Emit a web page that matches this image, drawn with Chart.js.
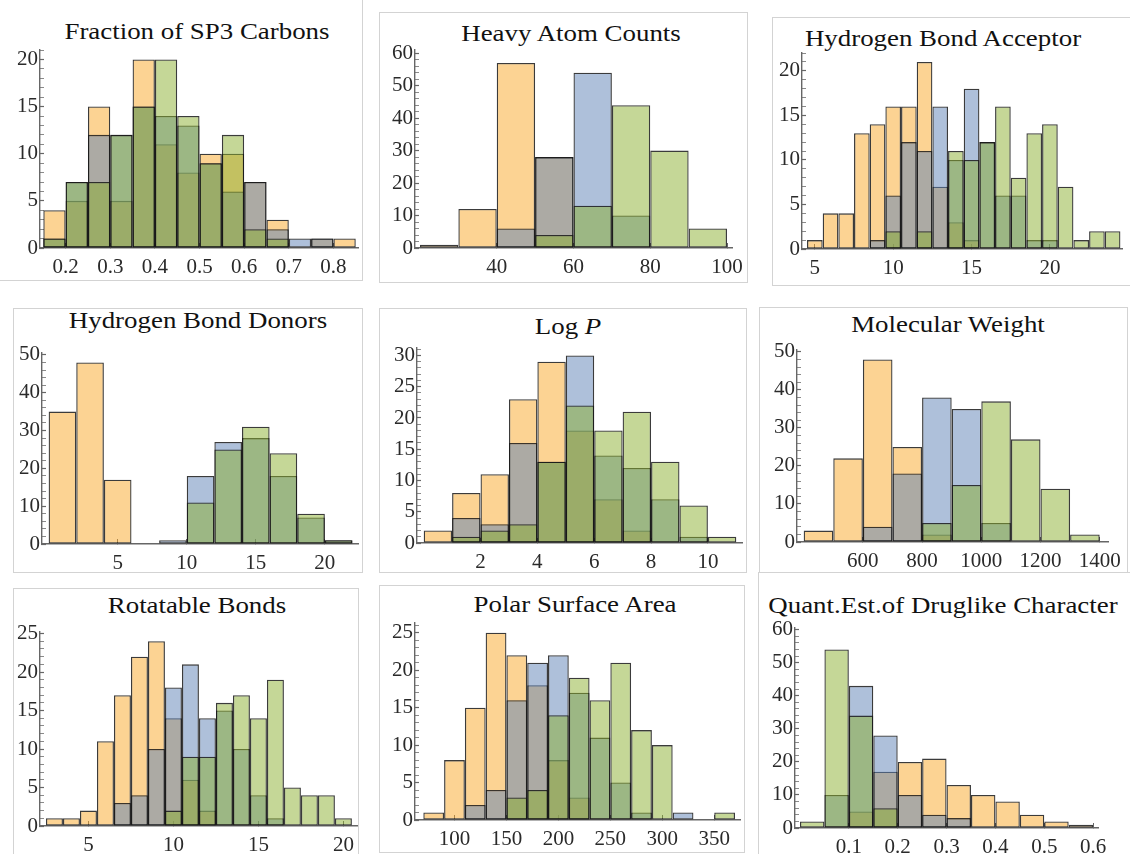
<!DOCTYPE html>
<html>
<head>
<meta charset="utf-8">
<title>Property histograms</title>
<script src="https://cdn.jsdelivr.net/npm/chart.js@4.4.1/dist/chart.umd.min.js"></script>
<style>
    body { margin: 0; width: 1130px; height: 854px; position: relative; overflow: hidden; background: #fff; font-family: 'Liberation Serif', 'Times New Roman', serif; }
    .frame { position: absolute; border: 1px solid #d3d3d3; box-sizing: border-box; }
    .title { position: absolute; font-size: 24px; line-height: 24px; color: #111; white-space: nowrap; transform: translateX(-50%) scaleX(1.12); }
    canvas { position: absolute; }
</style>
</head>
<body>
<div class="frame" style="left:-1px;top:-1px;width:364px;height:282px"></div>
<div class="frame" style="left:379px;top:12px;width:369px;height:271px"></div>
<div class="frame" style="left:772px;top:17px;width:370px;height:269px"></div>
<div class="frame" style="left:13px;top:308px;width:350px;height:265px"></div>
<div class="frame" style="left:379px;top:308px;width:368px;height:265px"></div>
<div class="frame" style="left:759px;top:307px;width:369px;height:266px"></div>
<div class="frame" style="left:13px;top:588px;width:346px;height:280px"></div>
<div class="frame" style="left:379px;top:585px;width:366px;height:268px"></div>
<div class="frame" style="left:758px;top:572px;width:380px;height:290px"></div>

<div class="title" style="left:197px;top:19px">Fraction of SP3 Carbons</div>
<div class="title" style="left:571px;top:21px">Heavy Atom Counts</div>
<div class="title" style="left:943px;top:26px">Hydrogen Bond Acceptor</div>
<div class="title" style="left:198px;top:308px">Hydrogen Bond Donors</div>
<div class="title" style="left:568px;top:314px">Log <i>P</i></div>
<div class="title" style="left:948px;top:312px">Molecular Weight</div>
<div class="title" style="left:197px;top:593px">Rotatable Bonds</div>
<div class="title" style="left:575px;top:592px">Polar Surface Area</div>
<div class="title" style="left:943px;top:593px">Quant.Est.of Druglike Character</div>

<script>
// bins = left edge of each bin; counts per bin for the three sets (orange, blue, green)

// Fraction of SP3 Carbons
const sp3Bins = [0.15, 0.2, 0.25, 0.3, 0.35, 0.4, 0.45, 0.5, 0.55, 0.6, 0.65, 0.7, 0.75, 0.8];
const sp3Orange = [4, 5, 15, 5, 20, 11, 8, 10, 10, 7, 3, 0, 1, 1];
const sp3Blue = [1, 7, 12, 12, 15, 14, 13, 9, 6, 7, 2, 1, 1, 0];
const sp3Green = [1, 7, 7, 12, 15, 20, 14, 9, 12, 2, 1, 0, 0, 0];
const sp3XTicks = [0.2, 0.3, 0.4, 0.5, 0.6, 0.7, 0.8];
const sp3YTicks = [0, 5, 10, 15, 20];

// Heavy Atom Counts
const heavyBins = [20, 30, 40, 50, 60, 70, 80, 90];
const heavyOrange = [1, 12, 57, 28, 0, 0, 0, 0];
const heavyBlue = [0, 0, 6, 28, 54, 10, 0, 0];
const heavyGreen = [0, 0, 0, 4, 13, 44, 30, 6];
const heavyXTicks = [40, 60, 80, 100];
const heavyYTicks = [0, 10, 20, 30, 40, 50, 60];

// Hydrogen Bond Acceptor
const hbaBins = [4.5, 5.5, 6.5, 7.5, 8.5, 9.5, 10.5, 11.5, 12.5, 13.5, 14.5, 15.5, 16.5, 17.5, 18.5, 19.5, 20.5, 21.5, 22.5, 23.5];
const hbaOrange = [1, 4, 4, 13, 14, 16, 16, 21, 7, 3, 1, 0, 0, 0, 0, 0, 0, 0, 0, 0];
const hbaBlue = [0, 0, 0, 0, 1, 6, 12, 11, 16, 10, 18, 12, 6, 6, 1, 1, 0, 0, 0, 0];
const hbaGreen = [0, 0, 0, 0, 0, 2, 0, 2, 0, 11, 10, 12, 16, 8, 13, 14, 7, 1, 2, 2];
const hbaXTicks = [5, 10, 15, 20];
const hbaYTicks = [0, 5, 10, 15, 20];

// Hydrogen Bond Donors
const hbdBins = [0, 2, 4, 6, 8, 10, 12, 14, 16, 18, 20];
const hbdOrange = [35, 48, 17, 0, 0, 0, 0, 0, 0, 0, 0];
const hbdBlue = [0, 0, 0, 0, 1, 18, 27, 28, 18, 7, 1];
const hbdGreen = [0, 0, 0, 0, 0, 11, 25, 31, 24, 8, 1];
const hbdXTicks = [5, 10, 15, 20];
const hbdYTicks = [0, 10, 20, 30, 40, 50];

// Log P
const logpBins = [0, 1, 2, 3, 4, 5, 6, 7, 8, 9, 10];
const logpOrange = [2, 8, 11, 23, 29, 18, 7, 2, 0, 0, 0];
const logpBlue = [0, 4, 3, 16, 13, 30, 14, 12, 7, 1, 0];
const logpGreen = [0, 1, 2, 3, 13, 22, 18, 21, 13, 6, 1];
const logpXTicks = [2, 4, 6, 8, 10];
const logpYTicks = [0, 5, 10, 15, 20, 25, 30];

// Molecular Weight
const mwBins = [400, 500, 600, 700, 800, 900, 1000, 1100, 1200, 1300];
const mwOrange = [3, 22, 48, 25, 2, 0, 0, 0, 0, 0];
const mwBlue = [0, 0, 4, 18, 38, 35, 5, 0, 0, 0];
const mwGreen = [0, 0, 0, 0, 5, 15, 37, 27, 14, 2];
const mwXTicks = [600, 800, 1000, 1200, 1400];
const mwYTicks = [0, 10, 20, 30, 40, 50];

// Rotatable Bonds
const rotBins = [2.5, 3.5, 4.5, 5.5, 6.5, 7.5, 8.5, 9.5, 10.5, 11.5, 12.5, 13.5, 14.5, 15.5, 16.5, 17.5, 18.5, 19.5];
const rotOrange = [1, 1, 2, 11, 17, 22, 24, 14, 6, 2, 0, 0, 0, 0, 0, 0, 0, 0];
const rotBlue = [0, 0, 0, 0, 3, 4, 10, 18, 21, 14, 15, 10, 4, 1, 0, 0, 0, 0];
const rotGreen = [0, 0, 0, 0, 0, 0, 0, 2, 9, 9, 16, 17, 14, 19, 5, 4, 4, 1];
const rotXTicks = [5, 10, 15, 20];
const rotYTicks = [0, 5, 10, 15, 20, 25];

// Polar Surface Area
const psaBins = [70, 90, 110, 130, 150, 170, 190, 210, 230, 250, 270, 290, 310, 330, 350];
const psaOrange = [1, 8, 15, 25, 22, 18, 8, 3, 0, 0, 0, 0, 0, 0, 0];
const psaBlue = [0, 0, 2, 4, 16, 21, 22, 17, 11, 5, 1, 0, 1, 0, 0];
const psaGreen = [0, 0, 0, 0, 3, 4, 14, 19, 16, 21, 12, 10, 0, 0, 1];
const psaXTicks = [100, 150, 200, 250, 300, 350];
const psaYTicks = [0, 5, 10, 15, 20, 25];

// Quant. Est. of Druglike Character
const qedBins = [0, 0.05, 0.1, 0.15, 0.2, 0.25, 0.3, 0.35, 0.4, 0.45, 0.5, 0.55];
const qedOrange = [0, 0, 5, 17, 20, 21, 13, 10, 8, 4, 2, 1];
const qedBlue = [0, 10, 43, 28, 10, 4, 3, 0, 0, 0, 0, 0];
const qedGreen = [2, 54, 34, 6, 0, 0, 0, 0, 0, 0, 0, 0];
const qedXTicks = [0.1, 0.2, 0.3, 0.4, 0.5, 0.6];
const qedYTicks = [0, 10, 20, 30, 40, 50, 60];

const ORANGE = 'rgba(250, 168, 40, 0.5)';
const BLUE = 'rgba(94, 129, 181, 0.5)';
const GREEN = 'rgba(140, 176, 48, 0.5)';
const EDGE = 'rgba(25, 25, 25, 0.85)';
const AXIS = '#666';
const LABEL = '#2a2a2a';

// box = plot area on the page: left, top, right, bottom
const panels = [
    { bins: sp3Bins, width: 0.05, sets: [sp3Orange, sp3Blue, sp3Green], xTicks: sp3XTicks, yTicks: sp3YTicks, minor: 1, xMin: 0.1426, xMax: 0.855, yMax: 21, box: [40, 50, 358, 248] },
    { bins: heavyBins, width: 10, sets: [heavyOrange, heavyBlue, heavyGreen], xTicks: heavyXTicks, yTicks: heavyYTicks, minor: 2, xMin: 18.7, xMax: 101.3, yMax: 61, box: [415, 50, 732, 248] },
    { bins: hbaBins, width: 1, sets: [hbaOrange, hbaBlue, hbaGreen], xTicks: hbaXTicks, yTicks: hbaYTicks, minor: 1, xMin: 4.18, xMax: 24.6, yMax: 22, box: [802, 53, 1122, 249] },
    { bins: hbdBins, width: 2, sets: [hbdOrange, hbdBlue, hbdGreen], xTicks: hbdXTicks, yTicks: hbdYTicks, minor: 2, xMin: -0.48, xMax: 22.4, yMax: 50.5, box: [42, 353, 358, 544] },
    { bins: logpBins, width: 1, sets: [logpOrange, logpBlue, logpGreen], xTicks: logpXTicks, yTicks: logpYTicks, minor: 1, xMin: -0.235, xMax: 11.2, yMax: 31.2, box: [417, 348, 742, 543] },
    { bins: mwBins, width: 100, sets: [mwOrange, mwBlue, mwGreen], xTicks: mwXTicks, yTicks: mwYTicks, minor: 2, xMin: 377.5, xMax: 1428, yMax: 50.5, box: [797, 350, 1108, 542] },
    { bins: rotBins, width: 1, sets: [rotOrange, rotBlue, rotGreen], xTicks: rotXTicks, yTicks: rotYTicks, minor: 1, xMin: 2.15, xMax: 20.8, yMax: 25.2, box: [40, 632, 357, 826] },
    { bins: psaBins, width: 20, sets: [psaOrange, psaBlue, psaGreen], xTicks: psaXTicks, yTicks: psaYTicks, minor: 1, xMin: 62, xMax: 374.8, yMax: 26.3, box: [415, 623, 740, 820] },
    { bins: qedBins, width: 0.05, sets: [qedOrange, qedBlue, qedGreen], xTicks: qedXTicks, yTicks: qedYTicks, minor: 2, xMin: -0.0102, xMax: 0.61, yMax: 60.5, box: [795, 628, 1098, 828] }
];

function toPoints(bins, width, counts) {
    return bins.map((start, i) => ({ x: start + width / 2, y: counts[i] > 0 ? counts[i] : null }));
}

function fmt(v) {
    return String(Math.round(v * 100) / 100);
}

function createHistogram(p) {
    const [left, top, right, bottom] = p.box;
    const canvas = document.createElement('canvas');
    canvas.width = right - left + 65;
    canvas.height = bottom - top + 50;
    canvas.style.left = (left - 45) + 'px';
    canvas.style.top = (top - 10) + 'px';
    document.body.appendChild(canvas);

    const colors = [ORANGE, BLUE, GREEN];
    const datasets = p.sets.map((counts, k) => ({
        data: toPoints(p.bins, p.width, counts),
        backgroundColor: colors[k],
        borderColor: EDGE,
        borderWidth: 1.3,
        borderSkipped: false,
        inflateAmount: 0,
        grouped: false,
        barPercentage: 1,
        categoryPercentage: 1,
        order: 3 - k   // green drawn last, on top
    }));

    // minor ticks on the value axis, labels only on the major ones
    const yAll = [];
    for (let v = 0; v <= p.yMax; v += p.minor) yAll.push(v);
    const isMajor = v => p.yTicks.includes(v);
    const tickFont = { family: 'Liberation Serif', size: 21 };

    new Chart(canvas.getContext('2d'), {
        type: 'bar',
        data: { datasets: datasets },
        options: {
            responsive: false,
            animation: false,
            layout: { padding: { top: 10, right: 20, left: 0, bottom: 0 } },
            plugins: { legend: { display: false }, tooltip: { enabled: false } },
            scales: {
                x: {
                    type: 'linear',
                    min: p.xMin,
                    max: p.xMax,
                    offset: false,
                    afterBuildTicks: s => { s.ticks = p.xTicks.map(v => ({ value: v })); },
                    afterFit: s => { s.height = 40; s.paddingLeft = 0; s.paddingRight = 0; },
                    grid: { drawOnChartArea: false, offset: false, tickLength: -5, color: AXIS, tickWidth: 1 },
                    border: { color: AXIS, width: 1.4 },
                    ticks: { padding: 12, color: LABEL, font: tickFont, maxRotation: 0, autoSkip: false, callback: v => fmt(v) }
                },
                y: {
                    min: 0,
                    max: p.yMax,
                    afterBuildTicks: s => { s.ticks = yAll.map(v => ({ value: v })); },
                    afterFit: s => { s.width = 45; s.paddingTop = 0; s.paddingBottom = 0; },
                    grid: {
                        drawOnChartArea: false,
                        tickLength: -4,
                        tickColor: c => (c.tick && isMajor(c.tick.value)) ? AXIS : '#8a8a8a',
                        tickWidth: c => (c.tick && isMajor(c.tick.value)) ? 1.2 : 1
                    },
                    border: { color: AXIS, width: 1.4 },
                    ticks: { padding: 6, color: LABEL, font: tickFont, autoSkip: false, callback: v => isMajor(v) ? fmt(v) : '' }
                }
            }
        }
    });
}

panels.forEach(createHistogram);
</script>
</body>
</html>
